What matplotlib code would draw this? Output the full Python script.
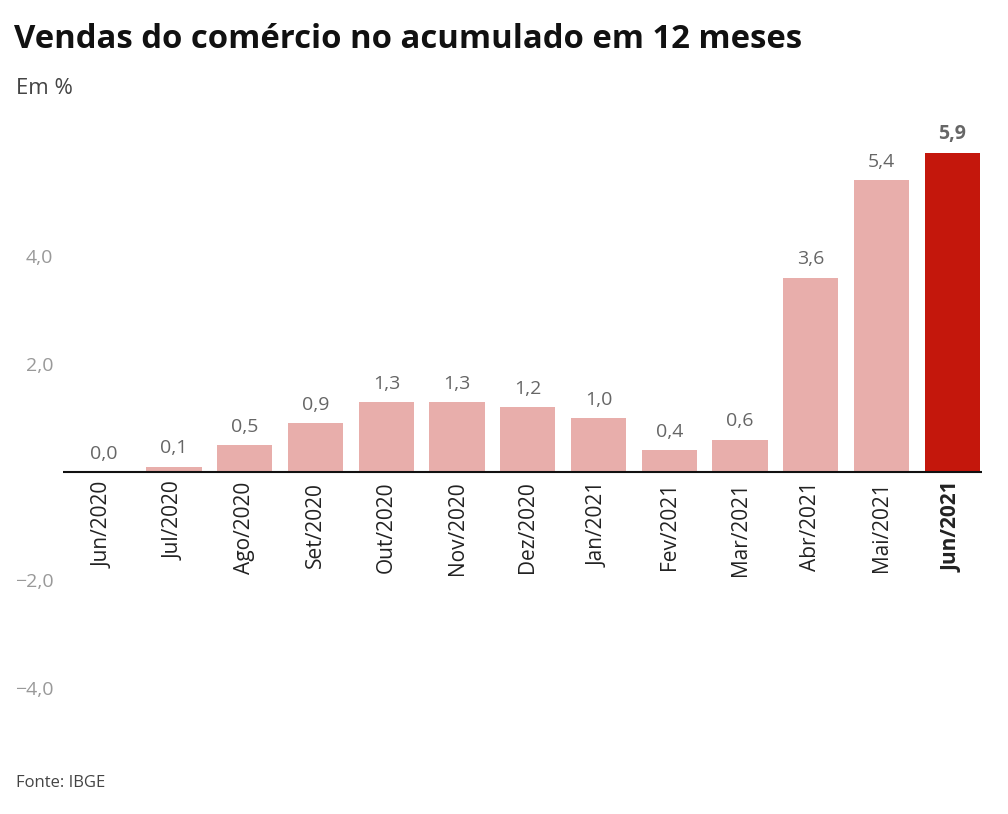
import matplotlib

matplotlib.use('Agg')
import matplotlib.pyplot as plt

plt.rcParams['font.family'] = ['Open Sans', 'DejaVu Sans']

# ── Data ──────────────────────────────────────────────────────────────────────
months = ['Jun/2020', 'Jul/2020', 'Ago/2020', 'Set/2020', 'Out/2020', 'Nov/2020',
          'Dez/2020', 'Jan/2021', 'Fev/2021', 'Mar/2021', 'Abr/2021', 'Mai/2021',
          'Jun/2021']
values = [0.0, 0.1, 0.5, 0.9, 1.3, 1.3, 1.2, 1.0, 0.4, 0.6, 3.6, 5.4, 5.9]
yticks = [-4, -2, 2, 4]

PINK = '#e8aeab'
RED = '#c4170c'

# ── Canvas ────────────────────────────────────────────────────────────────────
W, H = 1008, 814
fig = plt.figure(figsize=(W / 100, H / 100), dpi=100)
fig.patch.set_facecolor('white')

# axes placed in pixel terms: x 63..982, y (top) 121..742
ax = fig.add_axes([63 / W, 1 - 742 / H, (982 - 63) / W, (742 - 121) / H])
ax.set_xlim(-0.57, len(months) - 1 + 0.42)
ax.set_ylim(-5.0, 6.5)

colors = [PINK] * (len(values) - 1) + [RED]
x = list(range(len(months)))
ax.bar(x, values, width=0.78, color=colors, zorder=2)
ax.axhline(0, color='#111111', lw=1.5, zorder=3)

for xi, v in zip(x, values):
    last = xi == len(values) - 1
    ax.text(xi, v + 0.17, f'{v:.1f}'.replace('.', ','), ha='center', va='bottom',
            fontsize=14, color='#666666',
            fontweight='bold' if last else 'normal')
    ax.text(xi, -0.18, months[xi], rotation=90, ha='center', va='top',
            fontsize=15, color='#222222',
            fontweight='bold' if last else 'normal')

for s in ax.spines.values():
    s.set_visible(False)
ax.set_xticks([])
ax.set_yticks(yticks)
ax.set_yticklabels([f'{t:.1f}'.replace('.', ',').replace('-', '\u2212') for t in yticks])
ax.tick_params(axis='y', length=0, labelsize=14, labelcolor='#999999', pad=7)

# ── Texts ─────────────────────────────────────────────────────────────────────
fig.text(14 / W, 1 - 39 / H, 'Vendas do comércio no acumulado em 12 meses',
         ha='left', va='center', fontsize=23.7, fontweight='bold', color='#111111')
fig.text(16 / W, 1 - 88 / H, 'Em %', ha='left', va='center', fontsize=16,
         color='#444444')
fig.text(16 / W, 1 - 783 / H, 'Fonte: IBGE', ha='left', va='center', fontsize=12,
         color='#444444')

fig.savefig('out.png', dpi=100, facecolor='white')
